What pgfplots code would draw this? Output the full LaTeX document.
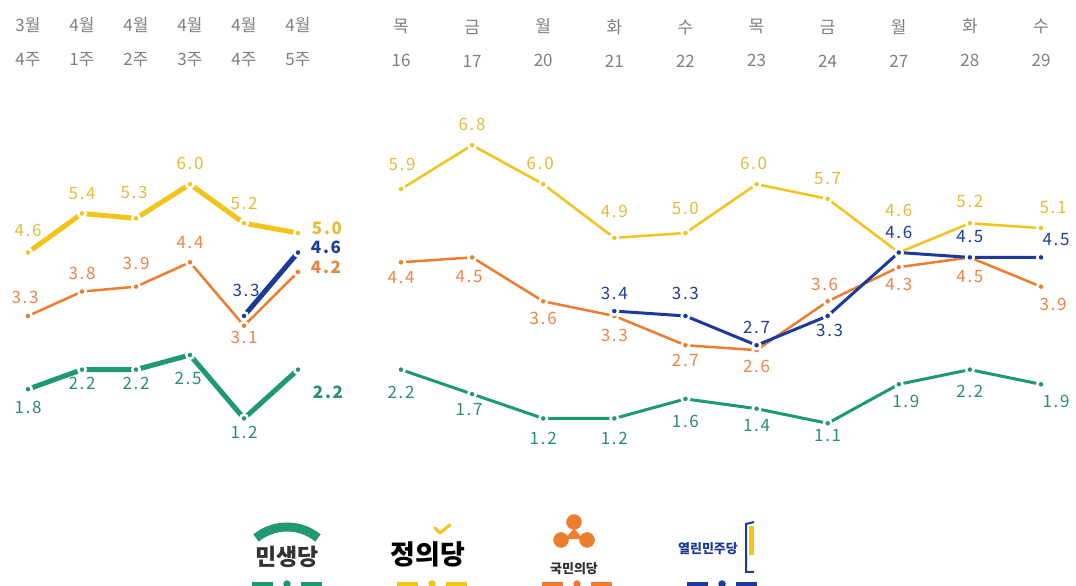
\documentclass[border=0pt]{standalone}
\usepackage{fontspec}
\setmainfont{Noto Sans CJK KR}
\newfontfamily\numfont[LetterSpace=10]{Noto Sans CJK KR}
\usepackage{pgfplots}
\pgfplotsset{compat=1.18}
\usepackage{pgfplotstable}
\definecolor{cY}{HTML}{F2C41C}
\definecolor{cYt}{HTML}{E3BC3A}
\definecolor{cO}{HTML}{EE7D30}
\definecolor{cOt}{HTML}{E8864A}
\definecolor{cG}{HTML}{1F9A6E}
\definecolor{cGt}{HTML}{2C8E6C}
\definecolor{cB}{HTML}{1B3A9A}
\definecolor{cBt}{HTML}{213E96}
\definecolor{tickgray}{HTML}{808080}
\definecolor{logotext}{HTML}{333333}
\newcommand\B[1]{{\bfseries #1}}

% left panel (weekly)
\pgfplotstableread{
x y lab dx dy
0 4.6 4.6 0 22
1 5.4 5.4 0 20
2 5.3 5.3 -2 26
3 6.0 6.0 0 21
4 5.2 5.2 0 20
5 5.0 \B{5.0} 29 5
}\LY
\pgfplotstableread{
x y lab dx dy
0 3.3 3.3 -3 19
1 3.8 3.8 0 18
2 3.9 3.9 0 23
3 4.4 4.4 0 20
4 3.1 3.1 0 -12
5 4.2 \B{4.2} 28 5
}\LO
\pgfplotstableread{
x y lab dx dy
4 3.3 3.3 2 26
5 4.6 \B{4.6} 28 5
}\LB
\pgfplotstableread{
x y lab dx dy
0 1.8 1.8 0 -18
1 2.2 2.2 0 -14
2 2.2 2.2 0 -14
3 2.5 2.5 -2 -23
4 1.2 1.2 0 -14
5 2.2 \B{2.2} 30 -23
}\LG
% right panel (daily)
\pgfplotstableread{
x y lab dx dy
0 5.9 5.9 1 25
1 6.8 6.8 0 21
2 6.0 6.0 -3 21
3 4.9 4.9 0 26
4 5.0 5.0 0 25
5 6.0 6.0 -3 21
6 5.7 5.7 0 20
7 4.6 4.6 0 42
8 5.2 5.2 0 22
9 5.1 5.1 12 21
}\RY
\pgfplotstableread{
x y lab dx dy
0 4.4 4.4 0 -15
1 4.5 4.5 -3 -19
2 3.6 3.6 0 -17
3 3.3 3.3 0 -19
4 2.7 2.7 0 -15
5 2.6 2.6 0 -16
6 3.6 3.6 -3 17
7 4.3 4.3 0 -17
8 4.5 4.5 0 -19
9 3.9 3.9 12 -18
}\RO
\pgfplotstableread{
x y lab dx dy
3 3.4 3.4 0 18
4 3.3 3.3 0 23
5 2.7 2.7 0 18
6 3.3 3.3 2 -14
7 4.6 4.6 0 20
8 4.5 4.5 0 21
9 4.5 4.5 15 18
}\RB
\pgfplotstableread{
x y lab dx dy
0 2.2 2.2 0 -23
1 1.7 1.7 -3 -16
2 1.2 1.2 0 -20
3 1.2 1.2 0 -20
4 1.6 1.6 0 -23
5 1.4 1.4 0 -17
6 1.1 1.1 0 -12
7 1.9 1.9 7 -17
8 2.2 2.2 0 -22
9 1.9 1.9 15 -17
}\RG

\pgfplotsset{
  ser/.style n args={3}{color=#1, line width=#2, mark=*, mark size=3.75pt,
    mark options={draw=white, fill=#1, line width=2.5pt},
    nodes near coords, point meta=explicit symbolic,
    visualization depends on={\thisrow{dx}\as\ldx},
    visualization depends on={\thisrow{dy}\as\ldy},
    every node near coord/.append style={text=#3, anchor=center, inner sep=0pt,
      xshift=\ldx, yshift=\ldy,
      font=\numfont\fontsize{17}{17}\selectfont}},
  base/.style={scale only axis, height=341.6pt, ymin=0, ymax=7, clip=false,
    axis x line*=top, axis y line=none, axis line style={draw=none},
    ytick=\empty, major tick length=0pt,
    xticklabel style={align=center, font=\fontsize{17}{34}\selectfont,
      text=tickgray, inner sep=0pt, anchor=south, yshift=68pt}},
}

\begin{document}
\begin{tikzpicture}
\useasboundingbox (0,0) rectangle (1076pt,586pt);
\fill[white] (0,0) rectangle (1076pt,586pt);

\begin{axis}[base, at={(28pt,109pt)}, anchor=south west, width=270pt,
  xmin=0, xmax=5, xtick={0,...,5},
  xticklabels={{3월\\4주},{4월\\1주},{4월\\2주},{4월\\3주},{4월\\4주},{4월\\5주}}]
\addplot[ser={cG}{5pt}{cGt}] table[x=x,y=y,meta=lab] {\LG};
\addplot[ser={cY}{5pt}{cYt}] table[x=x,y=y,meta=lab] {\LY};
\addplot[ser={cO}{2.5pt}{cOt}] table[x=x,y=y,meta=lab] {\LO};
\addplot[ser={cB}{5pt}{cBt}] table[x=x,y=y,meta=lab] {\LB};
\end{axis}

\begin{axis}[base, at={(401pt,109pt)}, anchor=south west, width=640pt,
  xmin=0, xmax=9, xtick={0,...,9},
  xticklabels={{목\\16},{금\\17},{월\\20},{화\\21},{수\\22},{목\\23},{금\\24},{월\\27},{화\\28},{수\\29}},
  legend columns=4,
  legend style={at={(-0.2906,-0.3425)}, anchor=south west, draw=none, fill=none,
    inner sep=0pt, outer sep=0pt, column sep=0pt, row sep=0pt,
    nodes={inner sep=0pt, outer sep=0pt},
    /tikz/every even column/.style={column sep=0pt}}]
\addlegendimage{legend image code/.code={
  \path[draw=none, fill=none] (-72pt,-10pt) rectangle (72pt,70pt);
  \draw[cG, line width=4.5pt] (-35pt,0pt)--(-14pt,0pt) (14pt,0pt)--(35pt,0pt);
  \fill[cG] (0pt,0pt) circle (3.5pt);
  \draw[cG, line width=9pt] (0pt,7.8pt) ++(51:49.2pt) arc[start angle=51,end angle=129,radius=49.2pt];
  \node[font=\fontsize{23}{23}\selectfont\bfseries, text=logotext, inner sep=0pt] at (0pt,27pt) {민생당};
}}
\addlegendentry{}
\addlegendimage{legend image code/.code={
  \path[draw=none, fill=none] (-72pt,-10pt) rectangle (72pt,70pt);
  \draw[cY, line width=4.5pt] (-35pt,0pt)--(-14pt,0pt) (14pt,0pt)--(35pt,0pt);
  \fill[cY] (0pt,0pt) circle (3.5pt);
  \node[font=\fontsize{27}{27}\selectfont\bfseries, text=black, inner sep=0pt] at (-4pt,30pt) {정의당};
  \draw[cY, line width=3pt, line cap=round, line join=round] (3pt,56pt)--(8pt,51pt)--(18pt,59pt);
}}
\addlegendentry{}
\addlegendimage{legend image code/.code={
  \path[draw=none, fill=none] (-72pt,-10pt) rectangle (72pt,70pt);
  \draw[cO, line width=4.5pt] (-35pt,0pt)--(-14pt,0pt) (14pt,0pt)--(35pt,0pt);
  \fill[cO] (0pt,0pt) circle (3.5pt);
  \node[font=\fontsize{13}{13}\selectfont\bfseries, text=logotext, inner sep=0pt] at (-3pt,15pt) {국민의당};
  \fill[cO] (-3pt,62pt) circle (7.5pt) (-16pt,44pt) circle (7.5pt) (10pt,44pt) circle (7.5pt);
  \fill[cO] (-3pt,55pt) -- (-12pt,45pt) -- (6pt,45pt) -- cycle;
}}
\addlegendentry{}
\addlegendimage{legend image code/.code={
  \path[draw=none, fill=none] (-72pt,-10pt) rectangle (72pt,70pt);
  \draw[cB, line width=4.5pt] (-35pt,0pt)--(-14pt,0pt) (14pt,0pt)--(35pt,0pt);
  \fill[cB] (0pt,0pt) circle (3.5pt);
  \node[font=\fontsize{13}{13}\selectfont\bfseries, text=cB, inner sep=0pt] at (-14pt,35pt) {열린민주당};
  \fill[cY] (27pt,30pt) rectangle (31pt,58pt);
  \draw[cB, line width=2pt] (32pt,62pt)--(24pt,60pt)--(24pt,12pt)--(32pt,12pt);
}}
\addlegendentry{}
\addplot[forget plot, ser={cG}{3pt}{cGt}] table[x=x,y=y,meta=lab] {\RG};
\addplot[forget plot, ser={cY}{2.5pt}{cYt}] table[x=x,y=y,meta=lab] {\RY};
\addplot[forget plot, ser={cO}{2.5pt}{cOt}] table[x=x,y=y,meta=lab] {\RO};
\addplot[forget plot, ser={cB}{3pt}{cBt}] table[x=x,y=y,meta=lab] {\RB};
\end{axis}
\end{tikzpicture}
\end{document}
